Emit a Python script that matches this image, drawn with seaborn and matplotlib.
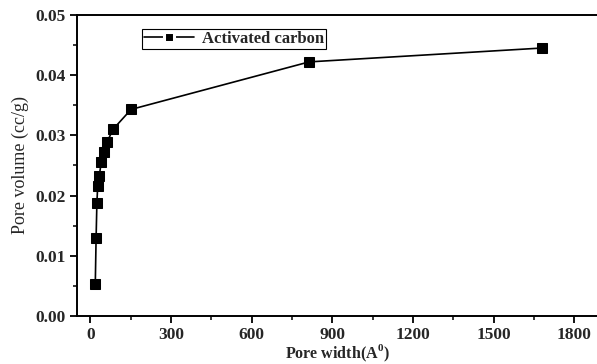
import numpy as np
import pandas as pd
import matplotlib
matplotlib.use("Agg")
import matplotlib.pyplot as plt
from matplotlib.ticker import MultipleLocator
from matplotlib.lines import Line2D
from matplotlib.legend_handler import HandlerLine2D
import seaborn as sns

# Data
pore_width = [18, 21, 24, 27, 33, 40, 50, 62, 84, 151, 814, 1680]
pore_volume = [0.0053, 0.0129, 0.0188, 0.0216, 0.0233, 0.0255,
               0.0273, 0.0289, 0.0310, 0.0343, 0.0422, 0.0445]
series_name = "Activated carbon"

df = pd.DataFrame({"width": pore_width, "volume": pore_volume})

sns.set_theme(style="ticks")
plt.rcParams["font.family"] = ["Liberation Serif", "DejaVu Serif"]
plt.rcParams["mathtext.fontset"] = "custom"
plt.rcParams["mathtext.rm"] = "Liberation Serif"
plt.rcParams["mathtext.bf"] = "Liberation Serif:bold"

fig = plt.figure(figsize=(5.97, 3.64), dpi=100)
ax = fig.add_axes([0.129, 0.132, 0.871, 0.827])

sns.lineplot(
    data=df,
    x="width",
    y="volume",
    sort=False,
    color="black",
    linewidth=1.2,
    marker="s",
    markersize=6.5,
    markeredgecolor="black",
    label=series_name,
    ax=ax
)

ax.set_xlim(-50, 1885)
ax.set_ylim(0, 0.05)
ax.xaxis.set_major_locator(MultipleLocator(300))
ax.xaxis.set_minor_locator(MultipleLocator(150))
ax.yaxis.set_major_locator(MultipleLocator(0.01))
ax.yaxis.set_minor_locator(MultipleLocator(0.005))
ax.yaxis.set_major_formatter(matplotlib.ticker.FormatStrFormatter("%.2f"))

ax.tick_params(which="major", direction="out", length=5, width=1.3,
               labelsize=12.5, color="black", pad=3)
ax.tick_params(which="minor", direction="out", length=3, width=1.1,
               color="black")
for lab in ax.get_xticklabels() + ax.get_yticklabels():
    lab.set_fontweight("bold")

for side in ["left", "bottom", "top"]:
    ax.spines[side].set_visible(True)
    ax.spines[side].set_color("black")
    ax.spines[side].set_linewidth(1.4)
ax.spines["right"].set_visible(False)

ax.set_xlabel(r"Pore width(A$^{\mathbf{0}}$)", fontsize=11.5,
              fontweight="bold", labelpad=0)
ax.set_ylabel("Pore volume (cc/g)", fontsize=13, labelpad=5)


# legend handle: line - gap - marker - gap - line
def gap_marker(leg_artist, orig):
    leg_artist.update_from(orig)
    leg_artist.set_markeredgecolor("white")
    leg_artist.set_markeredgewidth(2.2)
    leg_artist.set_markersize(7.5)


handles, labels = ax.get_legend_handles_labels()
leg = ax.legend(
    handles, labels,
    loc="upper left",
    bbox_to_anchor=(0.125, 0.953),
    borderaxespad=0,
    frameon=True,
    fancybox=False,
    edgecolor="black",
    framealpha=1,
    prop={"weight": "bold", "size": 12},
    handlelength=3.0,
    handletextpad=0.5,
    borderpad=0.12,
    numpoints=1,
    handler_map={Line2D: HandlerLine2D(update_func=gap_marker)}
)
leg.get_frame().set_linewidth(0.8)

fig.savefig("out.png", dpi=100)
